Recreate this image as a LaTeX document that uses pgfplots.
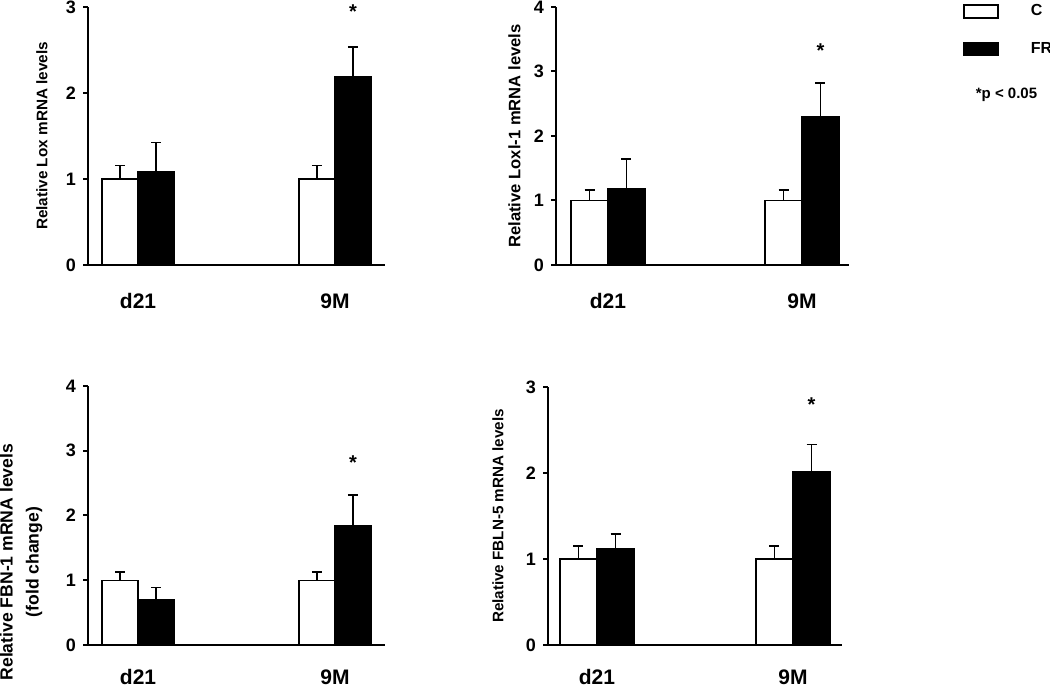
\documentclass[border=0pt]{standalone}
\usepackage{fontspec}
\setmainfont{Liberation Sans}
\usepackage{pgfplots}
\pgfplotsset{compat=1.18}

\pgfplotsset{
  panel/.style={
    scale only axis,
    axis x line*=bottom, axis y line*=left,
    axis line style={-, line width=1pt, black},
    ybar, bar shift=0pt,
    ymin=0,
    xtick={0,1}, xticklabels={d21,9M},
    x tick style={draw=none},
    y tick style={line width=1pt, black},
    tick align=outside, major tick length=2.5pt,
    xticklabel style={font=\fontsize{10.5}{11}\selectfont\bfseries, anchor=center, yshift=-15.5pt},
    yticklabel style={font=\fontsize{9}{10}\selectfont\bfseries},
    /pgf/number format/assume math mode=true,
    ylabel style={anchor=center, font=\fontsize{7.6}{9}\selectfont\bfseries},
    clip=false,
    error bars/y dir=plus, error bars/y explicit,
    error bars/error bar style={line width=0.8pt, black},
    error bars/error mark options={rotate=90, line width=0.8pt, black, mark size=2.5pt},
  },
  lowrow/.style={xticklabel style={yshift=2pt}},
  cbar/.style={fill=white, draw=black, line width=0.7pt},
  frbar/.style={fill=black, draw=black, line width=0.7pt},
}
\tikzset{starnode/.style={font=\fontsize{10}{11}\selectfont\bfseries}}

\begin{document}
\begin{tikzpicture}
\useasboundingbox (0,0) rectangle (525pt,344.5pt);

% Panel 1: Lox
\begin{axis}[panel, at={(44pt,212pt)}, anchor=south west,
  width=148.5pt, height=129pt,
  xmin=-0.254, xmax=1.254, ymax=3, ytick={0,1,2,3},
  bar width=0.183,
  ylabel={Relative Lox mRNA levels},
  ylabel style={at={(axis description cs:-0.155,0.5)}, font=\fontsize{7.65}{9}\selectfont\bfseries}]
\addplot[cbar] coordinates {(-0.0915,1.00) +- (0,0.155) (0.9085,1.00) +- (0,0.155)};
\addplot[frbar] coordinates {(0.0915,1.085) +- (0,0.34) (1.0915,2.19) +- (0,0.345)};
\node[starnode] at (axis cs:1.0915,2.95) {*};
\end{axis}

% Panel 2: Loxl-1
\begin{axis}[panel, at={(278pt,212pt)}, anchor=south west,
  width=146.5pt, height=129pt,
  xmin=-0.268, xmax=1.242, ymax=4, ytick={0,1,2,3,4},
  bar width=0.19,
  ylabel={Relative Loxl-1 mRNA levels},
  ylabel style={at={(axis description cs:-0.142,0.5)}, font=\fontsize{8.3}{9}\selectfont\bfseries},
  legend style={at={(axis description cs:1.389,1.027)}, anchor=north west, draw=none, fill=none,
    inner sep=0pt, row sep=7.75pt, font=\fontsize{8}{9}\selectfont\bfseries,
    /tikz/every odd column/.style={column sep=14pt}},
  legend cell align=left]
\addplot[cbar, legend image code/.code={\draw[fill=white, draw=black, line width=0.7pt] (0pt,-3.25pt) rectangle (17pt,3.25pt);}]
  coordinates {(-0.095,1.00) +- (0,0.16) (0.905,1.00) +- (0,0.16)};
\addlegendentry{C}
\addplot[frbar, legend image code/.code={\draw[fill=black, draw=black, line width=0.7pt] (0pt,-3.25pt) rectangle (17pt,3.25pt);}]
  coordinates {(0.095,1.19) +- (0,0.45) (1.095,2.30) +- (0,0.52)};
\addlegendentry{FR}
\node[starnode] at (axis cs:1.095,3.32) {*};
\end{axis}

% Panel 3: FBN-1
\begin{axis}[panel, lowrow, at={(44pt,22pt)}, anchor=south west,
  width=148.5pt, height=129.5pt,
  xmin=-0.254, xmax=1.254, ymax=4, ytick={0,1,2,3,4},
  bar width=0.183,
  ylabel={Relative FBN-1 mRNA levels\\(fold change)},
  ylabel style={at={(axis description cs:-0.225,0.32)}, align=center, font=\fontsize{8.8}{13}\selectfont\bfseries}]
\addplot[cbar] coordinates {(-0.0915,1.00) +- (0,0.13) (0.9085,1.00) +- (0,0.13)};
\addplot[frbar] coordinates {(0.0915,0.70) +- (0,0.19) (1.0915,1.85) +- (0,0.47)};
\node[starnode] at (axis cs:1.0915,2.81) {*};
\end{axis}

% Panel 4: FBLN-5
\begin{axis}[panel, lowrow, at={(274pt,22pt)}, anchor=south west,
  width=147pt, height=129pt,
  xmin=-0.25, xmax=1.25, ymax=3, ytick={0,1,2,3},
  bar width=0.189,
  ylabel={Relative FBLN-5 mRNA levels},
  ylabel style={at={(axis description cs:-0.170,0.5)}, font=\fontsize{7.6}{9}\selectfont\bfseries}]
\addplot[cbar] coordinates {(-0.0945,1.00) +- (0,0.15) (0.9055,1.00) +- (0,0.15)};
\addplot[frbar] coordinates {(0.0945,1.12) +- (0,0.17) (1.0945,2.02) +- (0,0.31)};
\node[starnode] at (axis cs:1.0945,2.80) {*};
\end{axis}

\node[font=\fontsize{7.5}{9}\selectfont\bfseries] at (503.25pt,297pt) {*p < 0.05};
\end{tikzpicture}
\end{document}
